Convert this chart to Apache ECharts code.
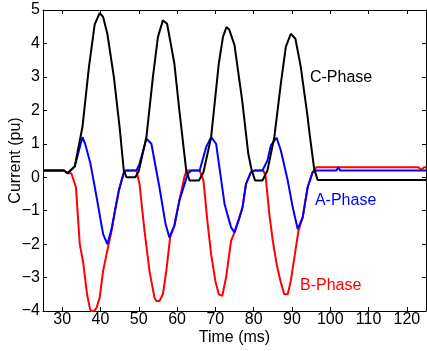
<!DOCTYPE html>
<html>
<head>
<meta charset="utf-8">
<script src="https://cdn.jsdelivr.net/npm/echarts@6/dist/echarts.min.js"></script>
<style>
html,body{margin:0;padding:0;background:#fff;}
#chart{width:427px;height:351px;}
</style>
</head>
<body>
<div id="chart"></div>
<script>
// Time (ms), Current (pu) samples
const phaseB = [[25,0.2],[30.5,0.2],[31.4,0.12],[32.4,0.12],[33.6,-0.3],[34.6,-2.0],[35.5,-2.55],[36.5,-3.5],[37.3,-3.95],[37.9,-4.03],[38.5,-3.98],[39.0,-3.9],[39.8,-3.6],[40.7,-2.8],[41.6,-2.3],[42.9,-1.6],[43.8,-1.0],[44.8,-0.4],[46.0,0.1],[46.6,0.2],[49.4,0.2],[50.2,-0.2],[51.5,-1.6],[52.8,-2.8],[54.1,-3.6],[54.6,-3.7],[55.4,-3.7],[56.3,-3.5],[57.2,-2.8],[58.2,-1.8],[59.3,-1.45],[60.6,-0.7],[62.0,0.05],[62.5,0.2],[65.9,0.2],[66.9,-0.1],[68.0,-1.4],[68.9,-2.3],[70.0,-3.1],[70.9,-3.5],[71.8,-3.55],[72.8,-3.0],[74.1,-1.9],[75.0,-1.65],[76.3,-1.2],[77.1,-0.9],[78.0,-0.2],[79.3,0.15],[80.2,0.2],[82.5,0.2],[83.1,0.05],[84.1,-1.1],[85.0,-1.9],[86.0,-2.6],[87.1,-3.15],[88.0,-3.5],[88.9,-3.5],[89.7,-3.1],[90.9,-2.2],[91.7,-1.6],[92.8,-1.2],[94.1,-0.3],[95.4,0.15],[96.4,0.3],[123.0,0.3],[123.8,0.22],[124.5,0.3],[125,0.3]];
const phaseA = [[25,0.2],[30.5,0.2],[31.4,0.12],[33.3,0.32],[35.3,1.2],[36.0,1.0],[37.4,0.4],[39.0,-0.6],[40.7,-1.7],[41.8,-2.0],[42.9,-1.55],[43.8,-1.0],[44.8,-0.4],[46.0,0.1],[46.6,0.2],[49.4,0.2],[50.2,0.4],[52.0,1.15],[53.3,1.0],[55.4,-0.3],[57.0,-1.4],[58.0,-1.8],[59.3,-1.45],[60.6,-0.7],[62.8,0.1],[63.7,0.2],[65.9,0.2],[67.6,0.9],[68.9,1.2],[70.2,1.0],[72.4,-0.8],[74.1,-1.5],[75.0,-1.65],[76.3,-1.2],[77.1,-0.9],[78.0,-0.2],[79.3,0.15],[80.2,0.2],[82.3,0.2],[83.6,0.5],[84.5,0.95],[86.0,1.18],[87.1,0.8],[88.9,-0.1],[90.2,-0.9],[91.5,-1.55],[92.8,-1.2],[94.1,-0.3],[95.4,0.15],[96.4,0.2],[101.6,0.2],[102.1,0.3],[102.6,0.2],[125,0.2]];
const phaseC = [[25,0.2],[30.5,0.2],[31.4,0.12],[33.3,0.33],[35.3,1.5],[37.0,3.3],[38.5,4.57],[39.8,4.91],[40.7,4.79],[41.8,4.29],[43.5,3.0],[45.0,1.5],[46.1,0.2],[46.8,0.0],[49.1,0.0],[50.0,0.18],[52.0,1.2],[53.7,3.0],[55.0,4.19],[56.3,4.69],[57.4,4.59],[59.3,3.4],[60.6,2.0],[62.4,0.2],[63.3,-0.1],[65.7,-0.1],[66.9,0.15],[68.9,1.2],[70.9,3.4],[72.0,4.2],[72.9,4.49],[73.6,4.42],[75.0,3.95],[77.0,2.3],[78.6,0.7],[79.5,0.2],[80.4,-0.1],[82.3,-0.1],[83.6,0.2],[85.4,1.2],[87.1,2.8],[88.4,3.9],[89.7,4.29],[90.9,4.14],[92.3,3.3],[94.1,1.8],[94.6,1.3],[95.8,0.25],[96.7,-0.08],[125,-0.08]];
const phaseNames = ['A-Phase','B-Phase','C-Phase'];
const xTickValues = [30,40,50,60,70,80,90,100,110,120];
const xRange = [25,125];
const yRange = [-4,5];

const FONT = '"Liberation Sans", Arial, sans-serif';
const chart = echarts.init(document.getElementById('chart'), null, {renderer:'canvas'});
const tickStyle = {show:true, inside:true, length:4, lineStyle:{color:'#000', width:1}};
const xTickStyle = Object.assign({customValues:xTickValues}, tickStyle);
const lineStyleAxis = {show:true, onZero:false, lineStyle:{color:'#000', width:1}};
function minusFmt(v){ return String(v).replace('-', '\u2212'); }
function mk(name, coord, color){
  return {symbol:'circle', symbolSize:0, silent:true, data:[{name:name, coord:coord}],
    label:{show:true, position:'right', distance:0, formatter:name, color:color, fontSize:16, fontFamily:FONT}};
}
chart.setOption({
  animation:false,
  backgroundColor:'#fff',
  grid:{left:43, right:1, top:10, bottom:40, containLabel:false, outerBoundsMode:'none'},
  xAxis:[{
    type:'value', min:xRange[0], max:xRange[1], position:'bottom',
    name:'Time (ms)', nameLocation:'middle', nameGap:19, nameMoveOverlap:false,
    nameTextStyle:{color:'#000', fontSize:16, fontFamily:FONT},
    axisLine:lineStyleAxis, axisTick:xTickStyle, splitLine:{show:false},
    axisLabel:{color:'#000', fontSize:16, fontFamily:FONT, margin:1, customValues:xTickValues, formatter:minusFmt}
  },{
    type:'value', min:xRange[0], max:xRange[1], position:'top',
    axisLine:lineStyleAxis, axisTick:xTickStyle, axisLabel:{show:false}, splitLine:{show:false}
  }],
  yAxis:[{
    type:'value', min:yRange[0], max:yRange[1], interval:1, position:'left',
    name:'Current (pu)', nameLocation:'middle', nameGap:19, nameMoveOverlap:false,
    nameTextStyle:{color:'#000', fontSize:16, fontFamily:FONT},
    axisLine:lineStyleAxis, axisTick:tickStyle, splitLine:{show:false},
    axisLabel:{color:'#000', fontSize:16, fontFamily:FONT, margin:3, formatter:minusFmt}
  },{
    type:'value', min:yRange[0], max:yRange[1], interval:1, position:'right',
    axisLine:lineStyleAxis, axisTick:tickStyle, axisLabel:{show:false}, splitLine:{show:false}
  }],
  series:[
    {name:phaseNames[1], type:'line', data:phaseB, showSymbol:false, symbol:'none',
      lineStyle:{color:'#ff0000', width:2}, itemStyle:{color:'#ff0000'},
      markPoint:mk(phaseNames[1], [92.1,-3.24], '#ff0000')},
    {name:phaseNames[0], type:'line', data:phaseA, showSymbol:false, symbol:'none',
      lineStyle:{color:'#0000ff', width:2}, itemStyle:{color:'#0000ff'},
      markPoint:mk(phaseNames[0], [96.0,-0.7], '#0000ff')},
    {name:phaseNames[2], type:'line', data:phaseC, showSymbol:false, symbol:'none',
      lineStyle:{color:'#000000', width:2}, itemStyle:{color:'#000000'},
      markPoint:mk(phaseNames[2], [94.7,2.97], '#000000')}
  ]
});
</script>
</body>
</html>
